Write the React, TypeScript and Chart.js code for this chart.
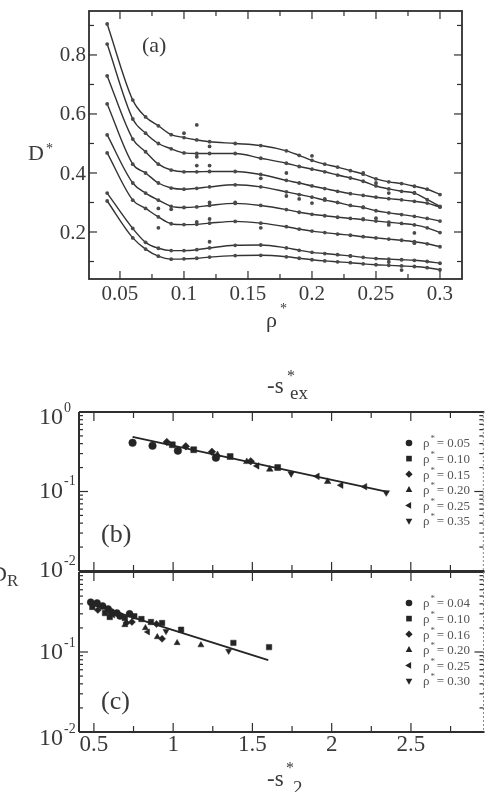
import React, { useEffect, useRef } from "react";
import { Chart, registerables } from "chart.js";

Chart.register(...registerables);

const W = 489;
const H = 792;
const SERIF = '"Liberation Serif", "DejaVu Serif", serif';
const AXIS = "#2e2e2e";
const LABEL = "#3a3a3a";
const MARK = "#242424";

// ---------- panel (a): D* versus rho* along eight isotherms ----------
const rhoA = [0.04, 0.06, 0.07, 0.08, 0.09, 0.10, 0.11, 0.12, 0.14, 0.16, 0.18, 0.19, 0.20, 0.21, 0.22, 0.23, 0.24, 0.25, 0.26, 0.27, 0.28, 0.29, 0.30];
const dA1 = [0.905, 0.647, 0.59, 0.56, 0.53, 0.52, 0.512, 0.506, 0.50, 0.493, 0.475, 0.46, 0.443, 0.43, 0.42, 0.408, 0.396, 0.38, 0.37, 0.364, 0.355, 0.345, 0.327];
const dA2 = [0.837, 0.583, 0.535, 0.50, 0.482, 0.468, 0.466, 0.466, 0.466, 0.45, 0.433, 0.422, 0.413, 0.404, 0.393, 0.383, 0.372, 0.356, 0.346, 0.338, 0.332, 0.31, 0.287];
const dA3 = [0.729, 0.515, 0.472, 0.43, 0.41, 0.404, 0.404, 0.405, 0.405, 0.395, 0.375, 0.366, 0.356, 0.347, 0.338, 0.33, 0.324, 0.318, 0.313, 0.309, 0.304, 0.298, 0.284];
const dA4 = [0.634, 0.43, 0.40, 0.366, 0.349, 0.345, 0.348, 0.353, 0.36, 0.353, 0.336, 0.327, 0.318, 0.308, 0.30, 0.29, 0.283, 0.272, 0.265, 0.259, 0.253, 0.246, 0.237];
const dA5 = [0.529, 0.366, 0.332, 0.308, 0.287, 0.283, 0.285, 0.29, 0.297, 0.29, 0.276, 0.267, 0.26, 0.255, 0.25, 0.246, 0.242, 0.237, 0.233, 0.229, 0.224, 0.214, 0.198];
const dA6 = [0.468, 0.308, 0.28, 0.251, 0.228, 0.225, 0.226, 0.23, 0.236, 0.23, 0.218, 0.21, 0.203, 0.198, 0.193, 0.189, 0.184, 0.18, 0.176, 0.172, 0.167, 0.16, 0.15];
const dA7 = [0.332, 0.212, 0.165, 0.145, 0.137, 0.137, 0.14, 0.146, 0.155, 0.156, 0.146, 0.138, 0.131, 0.127, 0.123, 0.119, 0.114, 0.11, 0.108, 0.106, 0.104, 0.1, 0.094];
const dA8 = [0.305, 0.18, 0.142, 0.118, 0.108, 0.109, 0.111, 0.115, 0.12, 0.121, 0.116, 0.111, 0.106, 0.102, 0.099, 0.096, 0.092, 0.089, 0.087, 0.085, 0.083, 0.079, 0.072];
// simulation points lying off the fitted curves
const rhoScatterA = [0.10, 0.11, 0.12, 0.11, 0.11, 0.12, 0.08, 0.09, 0.11, 0.12, 0.14, 0.12, 0.08, 0.12, 0.16, 0.16, 0.18, 0.18, 0.19, 0.20, 0.24, 0.25, 0.26, 0.28, 0.21, 0.20, 0.24, 0.24, 0.25, 0.26, 0.28, 0.28, 0.23, 0.26, 0.27];
const dScatterA = [0.535, 0.563, 0.49, 0.455, 0.425, 0.425, 0.28, 0.277, 0.234, 0.30, 0.30, 0.244, 0.214, 0.167, 0.382, 0.214, 0.40, 0.322, 0.312, 0.458, 0.40, 0.366, 0.332, 0.333, 0.312, 0.298, 0.284, 0.244, 0.247, 0.224, 0.197, 0.162, 0.119, 0.098, 0.071];
const xTicksA = ["0.05", "0.1", "0.15", "0.2", "0.25", "0.3"];
const yTicksA = ["0.2", "0.4", "0.6", "0.8"];

// ---------- panel (b): D_R versus -s*_ex ----------
const sB05 = [0.744, 0.87, 1.03, 1.27];
const dB05 = [0.41, 0.376, 0.326, 0.266];
const sB10 = [0.995, 1.13, 1.36, 1.66];
const dB10 = [0.387, 0.335, 0.275, 0.2];
const sB15 = [0.96, 1.08, 1.245, 1.49];
const dB15 = [0.42, 0.37, 0.316, 0.24];
const sB20 = [1.28, 1.465, 1.61, 1.975];
const dB20 = [0.29, 0.237, 0.19, 0.133];
const sB25 = [1.53, 1.91, 2.06, 2.21];
const dB25 = [0.21, 0.155, 0.12, 0.115];
const sB35 = [1.745, 2.345];
const dB35 = [0.168, 0.097];
const fitSB = [0.744, 2.36];
const fitDB = [0.487, 0.098];

// ---------- panel (c): D_R versus -s*_2 ----------
const sC04 = [0.48, 0.52, 0.555, 0.59, 0.61, 0.645, 0.665, 0.725];
const dC04 = [0.42, 0.41, 0.376, 0.345, 0.316, 0.307, 0.282, 0.3];
const sC10 = [0.49, 0.57, 0.6, 0.695, 0.755, 0.8, 0.86, 0.93, 1.05, 1.38, 1.605];
const dC10 = [0.366, 0.307, 0.274, 0.266, 0.28, 0.258, 0.237, 0.23, 0.19, 0.13, 0.115];
const sC16 = [0.525, 0.705, 0.74, 0.895, 0.93];
const dC16 = [0.335, 0.231, 0.237, 0.224, 0.146];
const sC20 = [0.695, 0.825, 0.9, 1.025, 1.175];
const dC20 = [0.218, 0.2, 0.154, 0.13, 0.122];
const sC25 = [0.62, 0.84];
const dC25 = [0.29, 0.178];
const sC30 = [0.955, 1.35];
const dC30 = [0.182, 0.103];
const fitSC = [0.49, 1.6];
const fitDC = [0.39, 0.079];

const xTicksBC = ["0.5", "1", "1.5", "2", "2.5"];

const pts = (xs: number[], ys: number[]) => xs.map((x, i) => ({ x, y: ys[i] }));

function line(ctx: CanvasRenderingContext2D, x1: number, y1: number, x2: number, y2: number) {
  ctx.beginPath();
  ctx.moveTo(x1, y1);
  ctx.lineTo(x2, y2);
  ctx.stroke();
}

function drawMarker(ctx: CanvasRenderingContext2D, style: string, rot: number, x: number, y: number, r: number) {
  ctx.save();
  ctx.translate(x, y);
  ctx.rotate((rot * Math.PI) / 180);
  ctx.beginPath();
  if (style === "circle") {
    ctx.arc(0, 0, r, 0, Math.PI * 2);
  } else if (style === "rect") {
    ctx.rect(-r * 0.85, -r * 0.85, r * 1.7, r * 1.7);
  } else if (style === "rectRot") {
    ctx.moveTo(0, -r * 1.1);
    ctx.lineTo(r * 1.1, 0);
    ctx.lineTo(0, r * 1.1);
    ctx.lineTo(-r * 1.1, 0);
    ctx.closePath();
  } else {
    ctx.moveTo(0, -r * 1.15);
    ctx.lineTo(r, r * 0.65);
    ctx.lineTo(-r, r * 0.65);
    ctx.closePath();
  }
  ctx.fill();
  ctx.restore();
}

const panelAPlugin = {
  id: "panelA",
  afterDraw(chart: any) {
    const { ctx, chartArea: ca, scales } = chart;
    const xs = scales.x;
    const ys = scales.y;
    ctx.save();
    ctx.strokeStyle = AXIS;
    ctx.lineWidth = 1.8;
    ctx.strokeRect(ca.left, ca.top, ca.right - ca.left, ca.bottom - ca.top);
    ctx.lineWidth = 1.2;
    for (let k = 1; k <= 12; k++) {
      const v = k * 0.025;
      if (v < xs.min || v > xs.max) continue;
      const px = xs.getPixelForValue(v);
      const len = k % 2 === 0 ? 8 : 5;
      line(ctx, px, ca.bottom, px, ca.bottom - len);
      line(ctx, px, ca.top, px, ca.top + len);
    }
    for (let k = 1; k <= 9; k++) {
      const v = k * 0.1;
      if (v < ys.min || v > ys.max) continue;
      const py = ys.getPixelForValue(v);
      const len = k % 2 === 0 ? 8 : 5;
      line(ctx, ca.left, py, ca.left + len, py);
      line(ctx, ca.right, py, ca.right - len, py);
    }
    ctx.fillStyle = LABEL;
    ctx.font = `21px ${SERIF}`;
    ctx.textBaseline = "middle";
    ctx.textAlign = "center";
    xTicksA.forEach((t) => ctx.fillText(t, xs.getPixelForValue(parseFloat(t)), ca.bottom + 15));
    ctx.textAlign = "right";
    yTicksA.forEach((t) => ctx.fillText(t, ca.left - 3, ys.getPixelForValue(parseFloat(t)) + 1));
    ctx.textAlign = "left";
    ctx.font = `22px ${SERIF}`;
    ctx.fillText("(a)", 142, 46);
    ctx.textBaseline = "alphabetic";
    ctx.fillText("D", 28, 160);
    ctx.font = `14px ${SERIF}`;
    ctx.fillText("*", 46, 153);
    ctx.font = `22px ${SERIF}`;
    ctx.fillText("ρ", 266, 327);
    ctx.font = `14px ${SERIF}`;
    ctx.fillText("*", 280, 313);
    ctx.restore();
  },
};

type LegendEntry = { style: string; rot: number; label: string };

function makeLogPanelPlugin(id: string, opts: {
  tag: string;
  tagY: number;
  legend: LegendEntry[];
  yLabels: { exp: string; v: number; dy: number }[];
  xLabels: boolean;
  extra: (ctx: CanvasRenderingContext2D) => void;
}) {
  return {
    id,
    afterDraw(chart: any) {
      const { ctx, chartArea: ca, scales } = chart;
      const xs = scales.x;
      const ys = scales.y;
      ctx.save();
      ctx.strokeStyle = AXIS;
      ctx.lineWidth = 2;
      line(ctx, ca.left, ca.top, ca.right, ca.top);
      line(ctx, ca.left, ca.bottom, ca.right, ca.bottom);
      line(ctx, ca.left, ca.top, ca.left, ca.bottom);
      ctx.save();
      ctx.strokeStyle = "#8a8a8a";
      ctx.lineWidth = 1;
      ctx.setLineDash([2, 2]);
      line(ctx, ca.right - 1, ca.top, ca.right - 1, ca.bottom);
      ctx.restore();
      ctx.lineWidth = 1.2;
      for (let k = 0; k <= 9; k++) {
        const v = 0.5 + k * 0.25;
        if (v > xs.max) continue;
        const px = xs.getPixelForValue(v);
        const len = k % 2 === 0 ? 9 : 6;
        line(ctx, px, ca.bottom, px, ca.bottom - len);
        line(ctx, px, ca.top, px, ca.top + len);
      }
      const decades = [0.01, 0.1];
      decades.forEach((d) => {
        for (let m = 1; m <= 9; m++) {
          const py = ys.getPixelForValue(m * d);
          const len = m === 1 ? 9 : 4;
          line(ctx, ca.left, py, ca.left + len, py);
          line(ctx, ca.right - 1, py, ca.right - 1 - len, py);
        }
      });
      ctx.fillStyle = LABEL;
      ctx.textBaseline = "middle";
      opts.yLabels.forEach(({ exp, v, dy }) => {
        const py = ys.getPixelForValue(v) + dy;
        ctx.font = `24px ${SERIF}`;
        ctx.textAlign = "right";
        ctx.fillText("10", 63, py);
        ctx.font = `14px ${SERIF}`;
        ctx.textAlign = "left";
        ctx.fillText(exp, 64, py - 10);
      });
      if (opts.xLabels) {
        ctx.font = `23px ${SERIF}`;
        ctx.textAlign = "center";
        xTicksBC.forEach((t) => ctx.fillText(t, xs.getPixelForValue(parseFloat(t)), ca.bottom + 13));
      }
      ctx.font = `26px ${SERIF}`;
      ctx.textAlign = "left";
      ctx.fillText(opts.tag, 101, opts.tagY);
      // legend
      opts.legend.forEach((e, i) => {
        const y = ca.top + 31 + i * 15.6;
        ctx.fillStyle = MARK;
        drawMarker(ctx, e.style, e.rot, 409, y, 3.3);
        ctx.fillStyle = "#555";
        ctx.font = `13px ${SERIF}`;
        ctx.textAlign = "left";
        ctx.textBaseline = "middle";
        ctx.fillText("ρ", 423, y + 1);
        const w = ctx.measureText("ρ").width;
        ctx.font = `9px ${SERIF}`;
        ctx.fillText("*", 423 + w + 1, y - 4);
        ctx.font = `13px ${SERIF}`;
        ctx.fillText(" = " + e.label, 423 + w + 4, y + 1);
      });
      ctx.fillStyle = LABEL;
      opts.extra(ctx);
      ctx.restore();
    },
  };
}

const markerSet = [
  { style: "circle", rot: 0 },
  { style: "rect", rot: 0 },
  { style: "rectRot", rot: 0 },
  { style: "triangle", rot: 0 },
  { style: "triangle", rot: -90 },
  { style: "triangle", rot: 180 },
];

function markerDataset(label: string, data: { x: number; y: number }[], idx: number, r: number) {
  const m = markerSet[idx];
  return {
    label,
    data,
    showLine: false,
    pointStyle: m.style,
    pointRotation: m.rot,
    pointRadius: m.style === "rect" ? r * 1.1 : r,
    pointBackgroundColor: MARK,
    pointBorderColor: MARK,
    pointBorderWidth: 0.5,
  };
}

function fitDataset(data: { x: number; y: number }[]) {
  return {
    data,
    showLine: true,
    borderColor: MARK,
    borderWidth: 1.8,
    pointRadius: 0,
  };
}

const baseOptions = (padding: any, x: any, y: any) => ({
  responsive: false,
  animation: false,
  devicePixelRatio: 1,
  events: [],
  layout: { padding },
  scales: { x: { display: false, ...x }, y: { display: false, ...y } },
  plugins: { legend: { display: false }, tooltip: { enabled: false } },
});

function makePanelA(): any {
  const curves = [dA1, dA2, dA3, dA4, dA5, dA6, dA7, dA8];
  const datasets: any[] = curves.map((c) => ({
    data: pts(rhoA, c),
    showLine: true,
    borderColor: "#333",
    borderWidth: 1.4,
    cubicInterpolationMode: "monotone",
    pointRadius: 1.9,
    pointBackgroundColor: "#4a4a4a",
    pointBorderWidth: 0,
  }));
  datasets.push({
    data: pts(rhoScatterA, dScatterA),
    showLine: false,
    pointRadius: 1.9,
    pointBackgroundColor: "#4a4a4a",
    pointBorderWidth: 0,
  });
  return {
    type: "scatter",
    data: { datasets },
    options: baseOptions(
      { left: 89, top: 11, right: 27, bottom: 513 },
      { type: "linear", min: 0.0258, max: 0.3172 },
      { type: "linear", min: 0.0407, max: 0.949 }
    ),
    plugins: [panelAPlugin],
  };
}

const legendB = ["0.05", "0.10", "0.15", "0.20", "0.25", "0.35"];
const legendC = ["0.04", "0.10", "0.16", "0.20", "0.25", "0.30"];

function makePanelB(): any {
  const series = [
    pts(sB05, dB05), pts(sB10, dB10), pts(sB15, dB15),
    pts(sB20, dB20), pts(sB25, dB25), pts(sB35, dB35),
  ];
  const datasets: any[] = [fitDataset(pts(fitSB, fitDB))];
  series.forEach((s, i) => datasets.push(markerDataset(legendB[i], s, i, 3.8)));
  return {
    type: "scatter",
    data: { datasets },
    options: baseOptions(
      { left: 79, top: 412, right: 2, bottom: 221 },
      { type: "linear", min: 0.406, max: 2.964 },
      { type: "logarithmic", min: 0.01, max: 1 }
    ),
    plugins: [
      makeLogPanelPlugin("panelB", {
        tag: "(b)",
        tagY: 535,
        legend: legendB.map((l, i) => ({ ...markerSet[i], label: l })),
        yLabels: [
          { exp: "0", v: 1, dy: 6 },
          { exp: "-1", v: 0.1, dy: 0 },
          { exp: "-2", v: 0.01, dy: 0 },
        ],
        xLabels: false,
        extra: (ctx) => {
          ctx.textAlign = "left";
          ctx.textBaseline = "alphabetic";
          ctx.font = `23px ${SERIF}`;
          ctx.fillText("-s", 267, 393);
          ctx.font = `16px ${SERIF}`;
          ctx.fillText("*", 287, 381);
          ctx.font = `19px ${SERIF}`;
          ctx.fillText("ex", 290, 399);
          ctx.font = `22px ${SERIF}`;
          ctx.fillText("D", -9, 581);
          ctx.font = `17px ${SERIF}`;
          ctx.fillText("R", 7, 586);
        },
      }),
    ],
  };
}

function makePanelC(): any {
  const series = [
    pts(sC04, dC04), pts(sC10, dC10), pts(sC16, dC16),
    pts(sC20, dC20), pts(sC25, dC25), pts(sC30, dC30),
  ];
  const datasets: any[] = [fitDataset(pts(fitSC, fitDC))];
  series.forEach((s, i) => datasets.push(markerDataset(legendC[i], s, i, 3.5)));
  return {
    type: "scatter",
    data: { datasets },
    options: baseOptions(
      { left: 79, top: 572, right: 2, bottom: 60 },
      { type: "linear", min: 0.406, max: 2.964 },
      { type: "logarithmic", min: 0.01, max: 1 }
    ),
    plugins: [
      makeLogPanelPlugin("panelC", {
        tag: "(c)",
        tagY: 702,
        legend: legendC.map((l, i) => ({ ...markerSet[i], label: l })),
        yLabels: [
          { exp: "-1", v: 0.1, dy: 1 },
          { exp: "-2", v: 0.01, dy: 7 },
        ],
        xLabels: true,
        extra: (ctx) => {
          ctx.textAlign = "left";
          ctx.textBaseline = "alphabetic";
          ctx.font = `23px ${SERIF}`;
          ctx.fillText("-s", 267, 786);
          ctx.font = `16px ${SERIF}`;
          ctx.fillText("*", 286, 773);
          ctx.font = `19px ${SERIF}`;
          ctx.fillText("2", 293, 794);
        },
      }),
    ],
  };
}

function ChartCanvas({ make }: { make: () => any }) {
  const ref = useRef<HTMLCanvasElement | null>(null);
  useEffect(() => {
    if (!ref.current) return;
    const chart = new Chart(ref.current, make());
    return () => chart.destroy();
  }, [make]);
  return (
    <canvas
      ref={ref}
      width={W}
      height={H}
      style={{ position: "absolute", left: 0, top: 0, width: W, height: H }}
    />
  );
}

export default function App() {
  return (
    <div
      style={{
        position: "absolute",
        left: 0,
        top: 0,
        width: W,
        height: H,
        background: "#fff",
        overflow: "hidden",
      }}
    >
      <ChartCanvas make={makePanelA} />
      <ChartCanvas make={makePanelB} />
      <ChartCanvas make={makePanelC} />
    </div>
  );
}
